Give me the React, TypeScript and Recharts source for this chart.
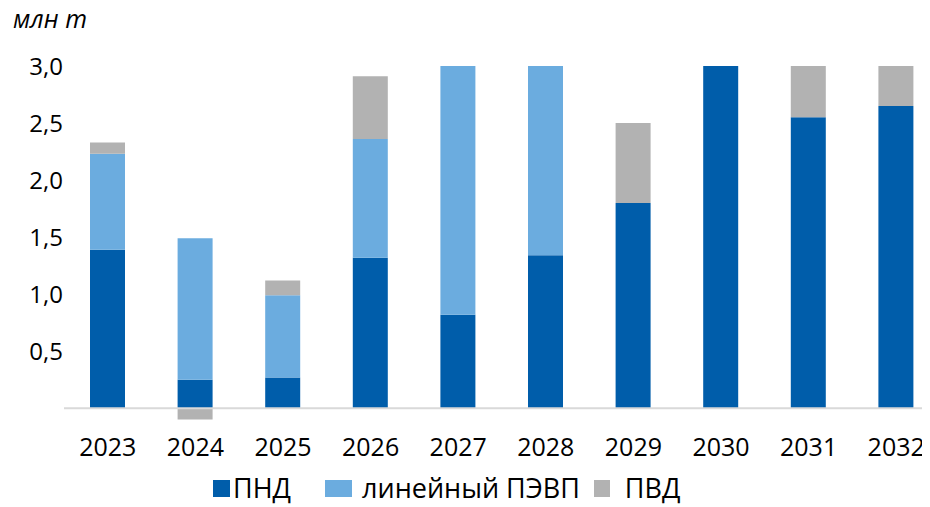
import React from 'react';
import { BarChart, Bar, XAxis, YAxis, ReferenceLine, Legend, Label } from 'recharts';

const years = ['2023', '2024', '2025', '2026', '2027', '2028', '2029', '2030', '2031', '2032'];
const pnd = [1.39, 0.25, 0.27, 1.32, 0.82, 1.34, 1.8, 3.0, 2.55, 2.65];
const linPevp = [0.84, 1.24, 0.72, 1.04, 2.18, 1.66, 0, 0, 0, 0];
const pvd = [0.1, -0.1, 0.13, 0.55, 0, 0, 0.7, 0, 0.45, 0.35];
const yTicks = [0.5, 1, 1.5, 2, 2.5, 3];
const unitLabel = 'млн т';
const seriesNames = ['ПНД', 'линейный ПЭВП', 'ПВД'];

const data = years.map((y, i) => ({ year: y, pnd: pnd[i], linPevp: linPevp[i], pvd: pvd[i] }));

const COLORS = { pnd: '#005DAA', linPevp: '#6BACDF', pvd: '#B2B2B2' };
const FONT = '"Open Sans", sans-serif';

const fmt = (v: number) => v.toFixed(1).replace('.', ',');

function LegendContent() {
  const items = [
    { name: seriesNames[0], color: COLORS.pnd, w: 17, gapBefore: 0, gapText: 3 },
    { name: seriesNames[1], color: COLORS.linPevp, w: 27, gapBefore: 34, gapText: 10 },
    { name: seriesNames[2], color: COLORS.pvd, w: 16, gapBefore: 14, gapText: 15 },
  ];
  return (
    <div
      style={{
        display: 'flex',
        alignItems: 'center',
        paddingLeft: 205,
        paddingTop: 4,
        height: 42,
        boxSizing: 'border-box',
        fontFamily: FONT,
        fontSize: 27,
        color: '#000',
      }}
    >
      {items.map((it) => (
        <div key={it.name} style={{ display: 'flex', alignItems: 'center', marginLeft: it.gapBefore }}>
          <span style={{ display: 'inline-block', width: it.w, height: 17, background: it.color, marginRight: it.gapText }} />
          <span style={{ lineHeight: '36px', whiteSpace: 'nowrap' }}>{it.name}</span>
        </div>
      ))}
    </div>
  );
}

export default function App() {
  const xTickStyle = { fill: '#000', fontSize: 25, fontFamily: FONT };
  const yTickStyle = { fill: '#000', fontSize: 24, fontFamily: FONT };
  return (
    <div style={{ width: 922, height: 507, overflow: 'hidden', position: 'relative', marginTop: -8 }}>
      <BarChart
        width={940}
        height={507}
        data={data}
        stackOffset="sign"
        margin={{ top: 66, right: 8, bottom: 0, left: 0 }}
        barSize={35}
      >
        <XAxis
          dataKey="year"
          axisLine={false}
          tickLine={false}
          tickSize={0}
          tickMargin={7}
          height={34}
          interval={0}
          tick={xTickStyle}
        />
        <YAxis
          domain={[-0.2, 3]}
          ticks={yTicks}
          allowDataOverflow
          axisLine={false}
          tickLine={false}
          tickSize={0}
          tickMargin={1}
          width={56}
          tickFormatter={fmt}
          tick={yTickStyle}
        >
          <Label
            content={() => (
              <text x={5} y={28} fontFamily={FONT} fontSize={25} fontStyle="italic" fill="#000">
                {unitLabel}
              </text>
            )}
          />
        </YAxis>
        <Bar dataKey="pnd" name={seriesNames[0]} stackId="a" fill={COLORS.pnd} isAnimationActive={false} />
        <Bar dataKey="linPevp" name={seriesNames[1]} stackId="a" fill={COLORS.linPevp} isAnimationActive={false} />
        <Bar dataKey="pvd" name={seriesNames[2]} stackId="a" fill={COLORS.pvd} isAnimationActive={false} />
        <ReferenceLine y={0} stroke="#D9D9D9" strokeWidth={2} />
        <Legend verticalAlign="bottom" height={42} content={<LegendContent />} />
      </BarChart>
    </div>
  );
}
